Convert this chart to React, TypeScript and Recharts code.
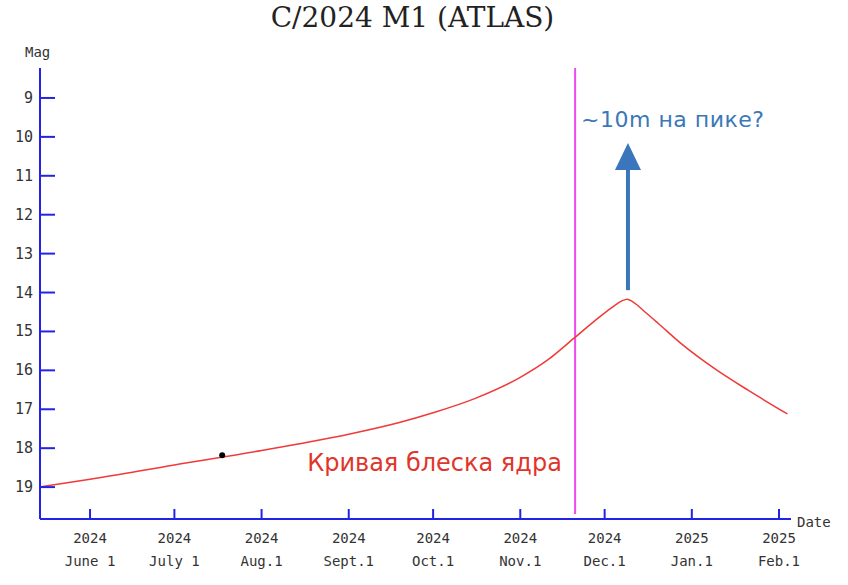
import React from "react";
import {
  LineChart,
  Line,
  XAxis,
  YAxis,
  ReferenceLine,
  ReferenceDot,
} from "recharts";

// кривая блеска ядра
const curveDates = [
  "2024-05-14", "2024-06-01", "2024-07-01", "2024-08-01", "2024-08-14",
  "2024-09-01", "2024-09-19", "2024-10-01", "2024-10-16", "2024-11-01",
  "2024-11-11", "2024-11-20", "2024-11-29", "2024-12-04", "2024-12-07",
  "2024-12-09", "2024-12-11", "2024-12-16", "2024-12-20", "2024-12-28",
  "2025-01-09", "2025-01-21", "2025-02-04",
];
const curveMags = [
  19.0, 18.8, 18.43, 18.06, 17.89,
  17.64, 17.34, 17.09, 16.72, 16.18,
  15.72, 15.18, 14.64, 14.36, 14.22,
  14.17, 14.24, 14.54, 14.79, 15.3,
  15.95, 16.51, 17.12,
];

const tickDates = [
  "2024-06-01", "2024-07-01", "2024-08-01", "2024-09-01", "2024-10-01",
  "2024-11-01", "2024-12-01", "2025-01-01", "2025-02-01",
];
const tickYears = ["2024", "2024", "2024", "2024", "2024", "2024", "2024", "2025", "2025"];
const tickMonths = ["June 1", "July 1", "Aug.1", "Sept.1", "Oct.1", "Nov.1", "Dec.1", "Jan.1", "Feb.1"];
const magTicks = [9, 10, 11, 12, 13, 14, 15, 16, 17, 18, 19];

const dateDomain = ["2024-05-14T05:00", "2025-02-05T06:30"];
const magDomain = [8.23, 19.82];

const observedDate = "2024-07-18";
const observedMag = 18.18;

const markerDate = "2024-11-20T12:00";
const peakDate = "2024-12-09T07:00";
const arrowFromMag = 13.94;
const arrowToMag = 10.16;

const AXIS = "#2323e8";
const MONO = "'DejaVu Sans Mono', monospace";

const ts = (s: string) =>
  Date.parse(s.length === 10 ? s + "T00:00:00Z" : s + ":00Z");

const tickTimes = tickDates.map(ts);
const data = curveDates.map((d, i) => ({ t: ts(d), mag: curveMags[i] }));

function DateTick({ x, y, payload }: any) {
  const i = tickTimes.indexOf(payload.value);
  return (
    <g>
      <line x1={x} x2={x} y1={y} y2={y - 10} stroke={AXIS} strokeWidth={2} />
      <text x={x} y={y + 24} textAnchor="middle" fontFamily={MONO} fontSize={14} fill="#333">
        {tickYears[i]}
      </text>
      <text x={x} y={y + 47} textAnchor="middle" fontFamily={MONO} fontSize={14} fill="#333">
        {tickMonths[i]}
      </text>
    </g>
  );
}

function MagTick({ x, y, payload }: any) {
  return (
    <g>
      <line x1={x} x2={x + 15} y1={y} y2={y} stroke={AXIS} strokeWidth={2} />
      <text x={x - 7} y={y + 5} textAnchor="end" fontFamily={MONO} fontSize={15} fill="#333">
        {payload.value}
      </text>
    </g>
  );
}

function Arrow({ x1, y1, y2 }: any) {
  const c = "#3b76bd";
  return (
    <g>
      <line x1={x1} x2={x1} y1={y1} y2={y2 + 24} stroke={c} strokeWidth={4} />
      <polygon points={`${x1},${y2} ${x1 - 13},${y2 + 27} ${x1 + 13},${y2 + 27}`} fill={c} />
    </g>
  );
}

export default function App() {
  return (
    <div style={{ position: "absolute", left: 0, top: 0, width: 848, height: 585, background: "#fff" }}>
      <div
        style={{
          position: "absolute",
          left: 0,
          width: 825,
          top: 1,
          textAlign: "center",
          fontFamily: "'DejaVu Serif', serif",
          fontSize: 28,
          color: "#222",
        }}
      >
        C/2024 M1 (ATLAS)
      </div>
      <LineChart
        width={848}
        height={585}
        data={data}
        margin={{ top: 68, right: 57, left: 0, bottom: 0 }}
      >
        <XAxis
          dataKey="t"
          type="number"
          domain={dateDomain.map(ts)}
          allowDataOverflow
          ticks={tickTimes}
          interval={0}
          tick={<DateTick />}
          tickLine={false}
          tickSize={0}
          tickMargin={0}
          height={66}
          axisLine={{ stroke: AXIS, strokeWidth: 2 }}
          label={() => (
            <text x={797} y={527} fontFamily={MONO} fontSize={14} fill="#333">
              Date
            </text>
          )}
        />
        <YAxis
          type="number"
          reversed
          domain={magDomain}
          allowDataOverflow
          ticks={magTicks}
          interval={0}
          tick={<MagTick />}
          tickLine={false}
          tickSize={0}
          tickMargin={0}
          width={40}
          axisLine={{ stroke: AXIS, strokeWidth: 2 }}
          label={() => (
            <text x={25} y={57} fontFamily={MONO} fontSize={14} fill="#333">
              Mag
            </text>
          )}
        />
        <ReferenceLine
          segment={[
            { x: ts(markerDate), y: magDomain[0] },
            { x: ts(markerDate), y: 19.69 },
          ]}
          stroke="#f049f0"
          strokeWidth={2}
        />
        <Line
          type="monotone"
          dataKey="mag"
          stroke="#f03a3a"
          strokeWidth={1.5}
          dot={false}
          isAnimationActive={false}
        />
        <ReferenceDot x={ts(observedDate)} y={observedMag} r={3} fill="#000" stroke="none" />
        <ReferenceLine
          segment={[
            { x: ts(peakDate), y: arrowFromMag },
            { x: ts(peakDate), y: arrowToMag },
          ]}
          shape={<Arrow />}
        />
        <ReferenceDot
          x={ts(markerDate)}
          y={9.745}
          r={0}
          shape={(p: any) => (
            <text x={p.cx + 6} y={p.cy} fontFamily="'DejaVu Sans', sans-serif" fontSize={22} fill="#3a78b9" letterSpacing={0.5}>
              ~10m на пике?
            </text>
          )}
        />
        <ReferenceDot
          x={ts("2024-08-17T05:00")}
          y={18.59}
          r={0}
          shape={(p: any) => (
            <text x={p.cx} y={p.cy} fontFamily="'DejaVu Sans', sans-serif" fontSize={24} fill="#e0352b">
              Кривая блеска ядра
            </text>
          )}
        />
      </LineChart>
    </div>
  );
}
